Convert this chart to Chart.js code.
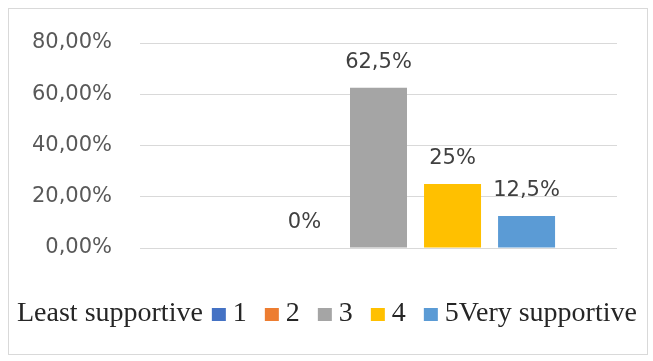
<!DOCTYPE html>
<html>
<head>
<meta charset="utf-8">
<script src="https://cdn.jsdelivr.net/npm/chart.js@4/dist/chart.umd.min.js"></script>
<style>
  html, body { margin: 0; padding: 0; background: #fff; }
  #wrap {
    position: absolute;
    left: 8px;
    top: 8px;
    width: 638px;
    height: 345px;
    border: 1px solid #d9d9d9;
  }
  canvas { display: block; }
</style>
</head>
<body>
<div id="wrap"><canvas id="supportChart" width="638" height="345"></canvas></div>
<script>
const categories = [""];
const seriesNames = ["1", "2", "3", "4", "5"];
const seriesValues = [null, 0, 62.5, 25, 12.5];
const seriesColors = ["#4472C4", "#ED7D31", "#A5A5A5", "#FFC000", "#5B9BD5"];
const yTicks = [0, 20, 40, 60, 80];
const legendLeftText = "Least supportive";
const legendRightText = "Very supportive";

const tickFont = { family: "DejaVu Sans", size: 21 };

function pctLabel(v) {
  return String(v).replace(".", ",") + "%";
}

// value labels above each bar
const valueLabels = {
  id: "valueLabels",
  afterDatasetsDraw(chart) {
    const ctx = chart.ctx;
    ctx.save();
    ctx.font = '21px "DejaVu Sans"';
    ctx.fillStyle = "#404040";
    ctx.textAlign = "center";
    ctx.textBaseline = "alphabetic";
    chart.data.datasets.forEach((ds, i) => {
      const meta = chart.getDatasetMeta(i);
      meta.data.forEach((bar, j) => {
        const v = ds.data[j];
        if (v === null || v === undefined) return;
        ctx.fillText(pctLabel(v), bar.x, bar.y - 20);
      });
    });
    ctx.restore();
  },
};

// legend row: serif text on both sides of the series keys
const sideLegend = {
  id: "sideLegend",
  afterDraw(chart) {
    const ctx = chart.ctx;
    const baseY = 312;
    ctx.save();
    ctx.font = '28px "Liberation Serif"';
    ctx.fillStyle = "#262626";
    ctx.textBaseline = "alphabetic";
    ctx.textAlign = "left";

    let x = 8;
    ctx.fillText(legendLeftText, x, baseY);
    x += ctx.measureText(legendLeftText).width + 9;

    chart.data.datasets.forEach((ds, i) => {
      ctx.fillStyle = ds.backgroundColor;
      ctx.fillRect(x, baseY - 13, 14, 13);
      x += 14 + 7;
      ctx.fillStyle = "#262626";
      ctx.fillText(ds.label, x, baseY);
      x += ctx.measureText(ds.label).width;
      if (i < chart.data.datasets.length - 1) x += 18;
    });

    ctx.fillText(legendRightText, x, baseY);
    ctx.restore();
  },
};

const datasets = seriesNames.map((name, i) => ({
  label: name,
  data: [seriesValues[i]],
  backgroundColor: seriesColors[i],
  borderWidth: 0,
  categoryPercentage: 0.776,
  barPercentage: 0.77,
}));

new Chart(document.getElementById("supportChart"), {
  type: "bar",
  data: { labels: categories, datasets },
  options: {
    responsive: false,
    animation: false,
    layout: { padding: { top: 34, right: 30, bottom: 106, left: 0 } },
    plugins: {
      legend: { display: false },
      tooltip: { enabled: false },
    },
    scales: {
      x: { display: false },
      y: {
        min: yTicks[0],
        max: yTicks[yTicks.length - 1],
        afterBuildTicks: (scale) => {
          scale.ticks = yTicks.map((v) => ({ value: v }));
        },
        afterFit: (scale) => {
          scale.width = 131;
          scale.paddingTop = 0;
          scale.paddingBottom = 0;
        },
        border: { display: false },
        grid: { color: "#d9d9d9", lineWidth: 1, drawTicks: false },
        ticks: {
          padding: 28,
          color: "#595959",
          font: tickFont,
          callback: (v) => v.toFixed(2).replace(".", ",") + "%",
        },
      },
    },
  },
  plugins: [valueLabels, sideLegend],
});
</script>
</body>
</html>
